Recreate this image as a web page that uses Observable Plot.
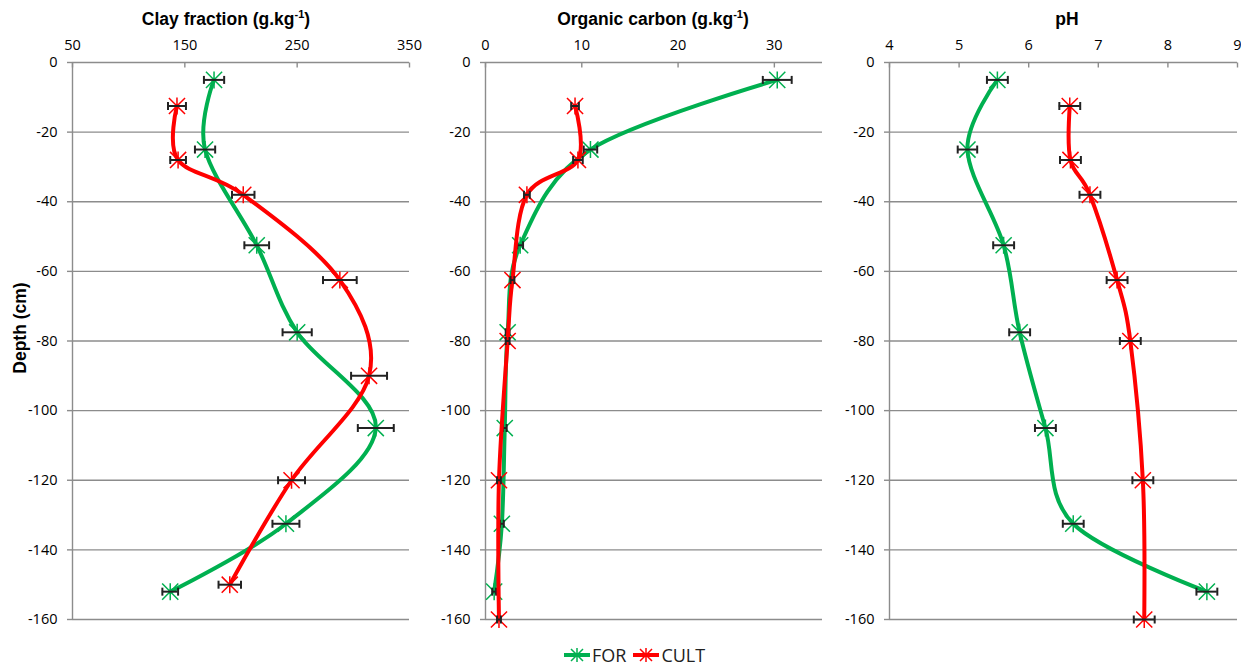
<!DOCTYPE html>
<html>
<head>
<meta charset="utf-8">
<script src="https://cdn.jsdelivr.net/npm/d3@7"></script>
<script src="https://cdn.jsdelivr.net/npm/@observablehq/plot@0.6"></script>
<style>
  body { margin: 0; background: #fff; }
  #chart { position: relative; width: 1241px; height: 667px; overflow: hidden; background: #fff; }
  .panel { position: absolute; top: 0; }
  .panel svg { overflow: visible; }
  .title { position: absolute; font-family: "Liberation Sans", Arial, sans-serif; font-weight: bold; font-size: 17.5px; color: #000; transform: translate(-50%, -50%); white-space: nowrap; }
  .title sup { font-size: 11px; line-height: 0; }
  .ytitle { position: absolute; left: 20px; top: 328px; font-family: "Liberation Sans", Arial, sans-serif; font-weight: bold; font-size: 17.5px; transform: translate(-50%, -50%) rotate(-90deg); white-space: nowrap; }
  .legend { position: absolute; top: 643px; left: 563px; height: 24px; display: flex; align-items: center; font-family: "Open Sans", sans-serif; font-size: 18px; color: #222; }
  .legend span { margin-right: 6px; }
  .legend svg { display: block; }
</style>
</head>
<body>
<div id="chart"></div>
<script>
// ---------- data ----------
const depthTicks = [0, -20, -40, -60, -80, -100, -120, -140, -160];
const depthDomain = [-160, 0];

const clayTicks = [50, 150, 250, 350];
const clayDomain = [50, 350];
const ocTicks = [0, 10, 20, 30];
const ocDomain = [0, 35];
const phTicks = [4, 5, 6, 7, 8, 9];
const phDomain = [4, 9];

const seriesNames = ["FOR", "CULT"];
const seriesColors = ["#00B050", "#FF0000"];

// FOR depths (cm)
const forDepth = [-5, -25, -52.5, -77.5, -105, -132.5, -152];
// CULT depths per panel (cm)
const cultDepthClay = [-12.5, -28, -38, -62.5, -90, -120, -150];
const cultDepthOC = [-12.5, -28, -38, -62.5, -80, -120, -160];
const cultDepthPH = [-12.5, -28, -38, -62.5, -80, -120, -160];

// Clay fraction (g/kg)
const clayFor = [176, 168, 214, 250, 320, 240, 137];
const clayForErr = [9, 9, 11, 13, 16, 12, 7];
const clayCult = [143, 144, 202, 288, 314, 245, 190];
const clayCultErr = [8, 7, 10, 15, 16, 12, 10];

// Organic carbon (g/kg)
const ocFor = [30.3, 10.9, 3.6, 2.3, 2.0, 1.7, 0.9];
const ocForErr = [1.5, 0.7, 0.3, 0.2, 0.2, 0.2, 0.2];
const ocCult = [9.3, 9.6, 4.3, 2.8, 2.3, 1.4, 1.4];
const ocCultErr = [0.4, 0.5, 0.3, 0.2, 0.2, 0.2, 0.2];

// pH
const phFor = [5.55, 5.12, 5.64, 5.87, 6.24, 6.64, 8.56];
const phForErr = [0.15, 0.14, 0.15, 0.15, 0.15, 0.15, 0.15];
const phCult = [6.59, 6.60, 6.88, 7.27, 7.46, 7.64, 7.66];
const phCultErr = [0.15, 0.15, 0.15, 0.15, 0.15, 0.15, 0.15];

// ---------- symbols ----------
const star = {
  draw(ctx, size) {
    const r = Math.sqrt(size / Math.PI);
    const a = r * 0.95;
    ctx.moveTo(0, -r); ctx.lineTo(0, r);
    ctx.moveTo(-a, -a); ctx.lineTo(a, a);
    ctx.moveTo(-a, a); ctx.lineTo(a, -a);
  }
};
const vbar = {
  draw(ctx, size) {
    const r = Math.sqrt(size / Math.PI);
    ctx.moveTo(0, -r); ctx.lineTo(0, r);
  }
};
const tickDown = {
  draw(ctx, size) {
    const r = Math.sqrt(size / Math.PI);
    ctx.moveTo(0, 0); ctx.lineTo(0, r);
  }
};

const gridColor = "#8c8c8c";

function rows(vals, depths, errs) {
  return vals.map((v, i) => ({v, d: depths[i], e: errs[i]}));
}

function seriesMarks(data, color) {
  return [
    Plot.line(data, {x: "v", y: "d", curve: "cardinal", stroke: color, strokeWidth: 4, strokeLinejoin: "round", strokeLinecap: "round"}),
    Plot.dot(data, {x: "v", y: "d", symbol: star, r: 8.5, stroke: color, fill: "none", strokeWidth: 1.5}),
    Plot.ruleY(data, {y: "d", x1: d => d.v - d.e, x2: d => d.v + d.e, stroke: "#222", strokeWidth: 2}),
    Plot.dot(data, {x: d => d.v - d.e, y: "d", symbol: vbar, r: 4, stroke: "#222", fill: "none", strokeWidth: 2}),
    Plot.dot(data, {x: d => d.v + d.e, y: "d", symbol: vbar, r: 4, stroke: "#222", fill: "none", strokeWidth: 2})
  ];
}

function panel({left, width, ml, mr, xDomain, xTicks, forData, cultData}) {
  const svg = Plot.plot({
    width, height: 640,
    marginLeft: ml, marginRight: mr, marginTop: 62, marginBottom: 21,
    x: {domain: xDomain, label: null},
    y: {domain: depthDomain, label: null},
    style: {fontFamily: "Open Sans", fontSize: "14.5px", color: "#000", background: "transparent", overflow: "visible"},
    marks: [
      Plot.ruleY(depthTicks, {stroke: gridColor, strokeWidth: 1.4}),
      Plot.ruleX([xDomain[0]], {stroke: gridColor, strokeWidth: 1.4}),
      Plot.dot(xTicks, {x: d => d, y: 0, symbol: tickDown, r: 5, stroke: gridColor, fill: "none", strokeWidth: 1.4}),
      Plot.axisY(depthTicks, {tickSize: 5, tickPadding: 10, tickFormat: d => String(d), label: null}),
      Plot.axisX(xTicks, {anchor: "top", tickSize: 0, tickPadding: 13, tickFormat: d => String(d), label: null}),
      ...seriesMarks(forData, seriesColors[0]),
      ...seriesMarks(cultData, seriesColors[1])
    ]
  });
  svg.querySelectorAll('[aria-label="y-axis tick"]').forEach(g => { g.setAttribute("stroke", gridColor); g.setAttribute("stroke-width", "1.4"); });
  const div = document.createElement("div");
  div.className = "panel";
  div.style.left = left + "px";
  div.appendChild(svg);
  return div;
}

const chart = document.getElementById("chart");

chart.appendChild(panel({left: 0, width: 420, ml: 72, mr: 11, xDomain: clayDomain, xTicks: clayTicks,
  forData: rows(clayFor, forDepth, clayForErr), cultData: rows(clayCult, cultDepthClay, clayCultErr)}));
chart.appendChild(panel({left: 420, width: 410, ml: 65, mr: 8, xDomain: ocDomain, xTicks: ocTicks,
  forData: rows(ocFor, forDepth, ocForErr), cultData: rows(ocCult, cultDepthOC, ocCultErr)}));
chart.appendChild(panel({left: 830, width: 411, ml: 59, mr: 4, xDomain: phDomain, xTicks: phTicks,
  forData: rows(phFor, forDepth, phForErr), cultData: rows(phCult, cultDepthPH, phCultErr)}));

// titles
const titles = [
  {html: "Clay fraction (g.kg<sup>-1</sup>)", x: 226},
  {html: "Organic carbon (g.kg<sup>-1</sup>)", x: 653},
  {html: "pH", x: 1067}
];
titles.forEach(t => {
  const el = document.createElement("div");
  el.className = "title";
  el.innerHTML = t.html;
  el.style.left = t.x + "px";
  el.style.top = "19px";
  chart.appendChild(el);
});
const yt = document.createElement("div");
yt.className = "ytitle";
yt.textContent = "Depth (cm)";
chart.appendChild(yt);

// legend
const legend = document.createElement("div");
legend.className = "legend";
seriesNames.forEach((name, i) => {
  const ns = "http://www.w3.org/2000/svg";
  const s = document.createElementNS(ns, "svg");
  s.setAttribute("width", 29); s.setAttribute("height", 20);
  const ln = document.createElementNS(ns, "line");
  ln.setAttribute("x1", 1); ln.setAttribute("x2", 27); ln.setAttribute("y1", 10); ln.setAttribute("y2", 10);
  ln.setAttribute("stroke", seriesColors[i]); ln.setAttribute("stroke-width", 4);
  s.appendChild(ln);
  const p = document.createElementNS(ns, "path");
  p.setAttribute("d", "M14,3V17M8,4L20,16M8,16L20,4");
  p.setAttribute("stroke", seriesColors[i]); p.setAttribute("stroke-width", 1.5); p.setAttribute("fill", "none");
  s.appendChild(p);
  legend.appendChild(s);
  const sp = document.createElement("span");
  sp.textContent = name;
  legend.appendChild(sp);
});
chart.appendChild(legend);
</script>
</body>
</html>
